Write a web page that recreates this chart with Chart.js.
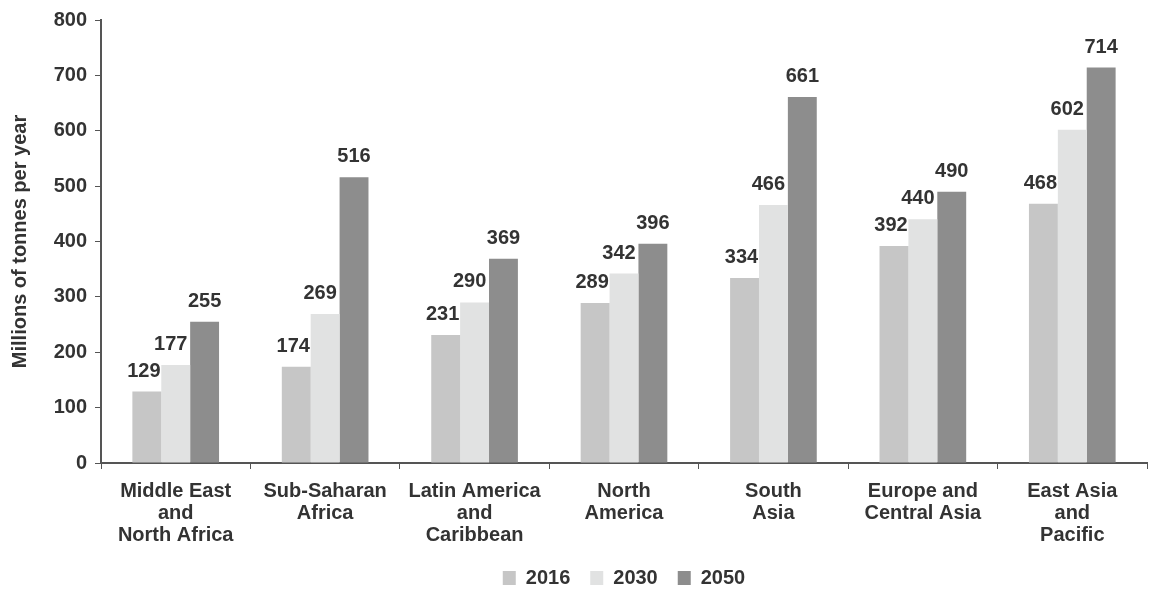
<!DOCTYPE html>
<html>
<head>
<meta charset="utf-8">
<script src="https://cdn.jsdelivr.net/npm/chart.js@4/dist/chart.umd.min.js"></script>
<style>
  html, body { margin: 0; padding: 0; background: #ffffff; }
  #wrap { width: 1151px; height: 594px; position: relative; }
</style>
</head>
<body>
<div id="wrap"><canvas id="c" width="1151" height="594"></canvas></div>
<script>
// Regions (multi-line category labels)
const regions = [
  ["Middle East", "and", "North Africa"],
  ["Sub-Saharan", "Africa"],
  ["Latin America", "and", "Caribbean"],
  ["North", "America"],
  ["South", "Asia"],
  ["Europe and", "Central Asia"],
  ["East Asia", "and", "Pacific"]
];

// Waste generated, millions of tonnes per year
const waste2016 = [129, 174, 231, 289, 334, 392, 468];
const waste2030 = [177, 269, 290, 342, 466, 440, 602];
const waste2050 = [255, 516, 369, 396, 661, 490, 714];

const yTicks = [0, 100, 200, 300, 400, 500, 600, 700, 800];

const textColor = "#333333";
const axisColor = "#555555";
const fontFamily = "'Liberation Sans', Arial, Helvetica, sans-serif";

// Small horizontal nudges so neighbouring value labels don't collide
const labelShift = [-3, -5, 0];

// Writes each bar's value just above it
const valueLabels = {
  id: "valueLabels",
  afterDatasetsDraw(chart) {
    const ctx = chart.ctx;
    ctx.save();
    ctx.fillStyle = textColor;
    ctx.font = "bold 20px " + fontFamily;
    ctx.textAlign = "center";
    ctx.textBaseline = "alphabetic";
    chart.data.datasets.forEach((ds, di) => {
      const meta = chart.getDatasetMeta(di);
      meta.data.forEach((bar, i) => {
        ctx.fillText(String(ds.data[i]), bar.x + labelShift[di], bar.y - 15);
      });
    });
    ctx.restore();
  }
};

new Chart(document.getElementById("c"), {
  type: "bar",
  data: {
    labels: regions,
    datasets: [
      { label: "2016", data: waste2016, backgroundColor: "#c6c6c6" },
      { label: "2030", data: waste2030, backgroundColor: "#e1e2e2" },
      { label: "2050", data: waste2050, backgroundColor: "#8d8d8d" }
    ]
  },
  options: {
    responsive: false,
    animation: false,
    devicePixelRatio: 1,
    layout: { padding: { left: 0, right: 4, top: 19, bottom: -4 } },
    datasets: {
      bar: { barPercentage: 1.0, categoryPercentage: 0.58, borderWidth: 0 }
    },
    plugins: {
      legend: {
        position: "bottom",
        fullSize: false,
        labels: {
          boxWidth: 13,
          boxHeight: 14,
          padding: 20,
          color: textColor,
          font: { family: fontFamily, size: 20, weight: "bold" }
        }
      },
      tooltip: { enabled: false }
    },
    scales: {
      x: {
        afterFit(scale) { scale.height = 85; },
        grid: {
          display: true,
          drawOnChartArea: false,
          offset: true,
          tickLength: 6,
          color: axisColor
        },
        border: { display: true, color: axisColor, width: 2 },
        ticks: {
          color: textColor,
          padding: 12,
          maxRotation: 0,
          autoSkip: false,
          font: { family: fontFamily, size: 20, weight: "bold", lineHeight: 1.08 }
        }
      },
      y: {
        min: 0,
        max: 800,
        afterFit(scale) { scale.width = 101; },
        afterBuildTicks(scale) {
          scale.ticks = yTicks.map(v => ({ value: v }));
        },
        grid: {
          display: true,
          drawOnChartArea: false,
          tickLength: 6,
          color: axisColor
        },
        border: { display: true, color: axisColor, width: 2 },
        ticks: {
          color: textColor,
          padding: 8,
          font: { family: fontFamily, size: 20, weight: "bold" }
        },
        title: {
          display: true,
          text: "Millions of tonnes per year",
          color: textColor,
          padding: { top: 8, bottom: 0 },
          font: { family: fontFamily, size: 20, weight: "bold" }
        }
      }
    }
  },
  plugins: [valueLabels]
});
</script>
</body>
</html>
